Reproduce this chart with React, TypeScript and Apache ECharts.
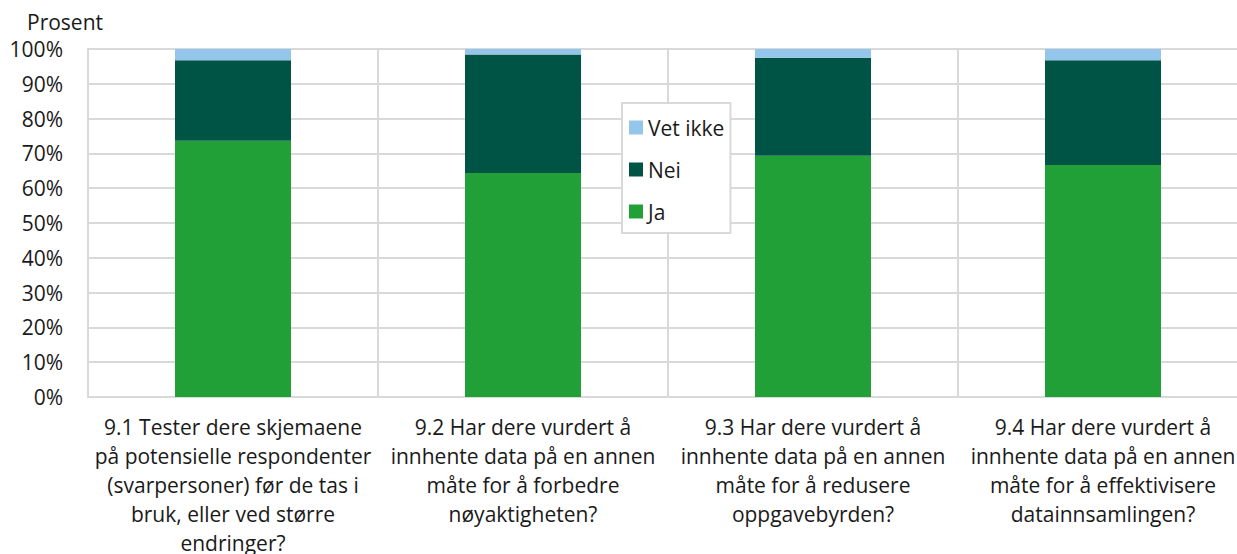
import React, { useEffect, useRef } from "react";
import * as echarts from "echarts";

const categories = [
  "9.1 Tester dere skjemaene\npå potensielle respondenter\n(svarpersoner) før de tas i\nbruk, eller ved større\nendringer?",
  "9.2 Har dere vurdert å\ninnhente data på en annen\nmåte for å forbedre\nnøyaktigheten?",
  "9.3 Har dere vurdert å\ninnhente data på en annen\nmåte for å redusere\noppgavebyrden?",
  "9.4 Har dere vurdert å\ninnhente data på en annen\nmåte for å effektivisere\ndatainnsamlingen?",
];
const ja = [73.6, 64.4, 69.3, 66.7];
const nei = [23.2, 34.0, 28.2, 30.1];
const vetIkke = [3.2, 1.6, 2.5, 3.2];
const yTicks = [0, 10, 20, 30, 40, 50, 60, 70, 80, 90, 100];

const FONT = "'Open Sans', 'Noto Sans', sans-serif";
const FS = 21;

export default function App() {
  const ref = useRef<HTMLDivElement>(null);
  useEffect(() => {
    const chart = echarts.init(ref.current!, null, { renderer: "svg" });
    chart.setOption({
      animation: false,
      textStyle: { fontFamily: FONT },
      graphic: [
        {
          type: "text",
          left: 27,
          top: 11,
          style: { text: "Prosent", fontSize: FS, fontFamily: FONT, fill: "#1a1a1a" },
        },
      ],
      legend: {
        orient: "vertical",
        left: 622,
        top: 103,
        data: ["Vet ikke", "Nei", "Ja"],
        backgroundColor: "#ffffff",
        borderColor: "#d9d9d9",
        borderWidth: 2,
        padding: [14, 6, 11, 7],
        itemWidth: 14,
        itemHeight: 14,
        itemGap: 21,
        icon: "rect",
        textStyle: { fontSize: FS, fontFamily: FONT, color: "#1a1a1a" },
      },
      grid: { left: 88, top: 49, width: 1160, height: 348, containLabel: false, outerBoundsMode: "none" },
      xAxis: {
        type: "category",
        data: categories,
        axisLine: { show: true, lineStyle: { color: "#d9d9d9", width: 2 } },
        axisTick: { show: false },
        splitLine: { show: true, lineStyle: { color: "#d9d9d9", width: 2 } },
        axisLabel: {
          interval: 0,
          fontSize: FS,
          lineHeight: 29,
          color: "#1a1a1a",
          fontFamily: FONT,
          margin: 15,
        },
      },
      yAxis: {
        type: "value",
        min: 0,
        max: 100,
        interval: 10,
        axisLine: { show: true, lineStyle: { color: "#d9d9d9", width: 2 } },
        axisTick: { show: false },
        splitLine: { show: true, lineStyle: { color: "#d9d9d9", width: 2 } },
        axisLabel: {
          fontSize: FS,
          color: "#1a1a1a",
          fontFamily: FONT,
          margin: 25,
          formatter: (v: number) => (yTicks.includes(v) ? v + "%" : ""),
        },
      },
      series: [
        { name: "Ja", type: "bar", stack: "s", data: ja, barWidth: "40%", itemStyle: { color: "#21a038" } },
        { name: "Nei", type: "bar", stack: "s", data: nei, itemStyle: { color: "#005445" } },
        { name: "Vet ikke", type: "bar", stack: "s", data: vetIkke, itemStyle: { color: "#94c6ec" } },
      ],
    });
    return () => chart.dispose();
  }, []);
  return (
    <div
      ref={ref}
      style={{ position: "absolute", left: 0, top: 0, width: 1237, height: 554, background: "#fff" }}
    />
  );
}
